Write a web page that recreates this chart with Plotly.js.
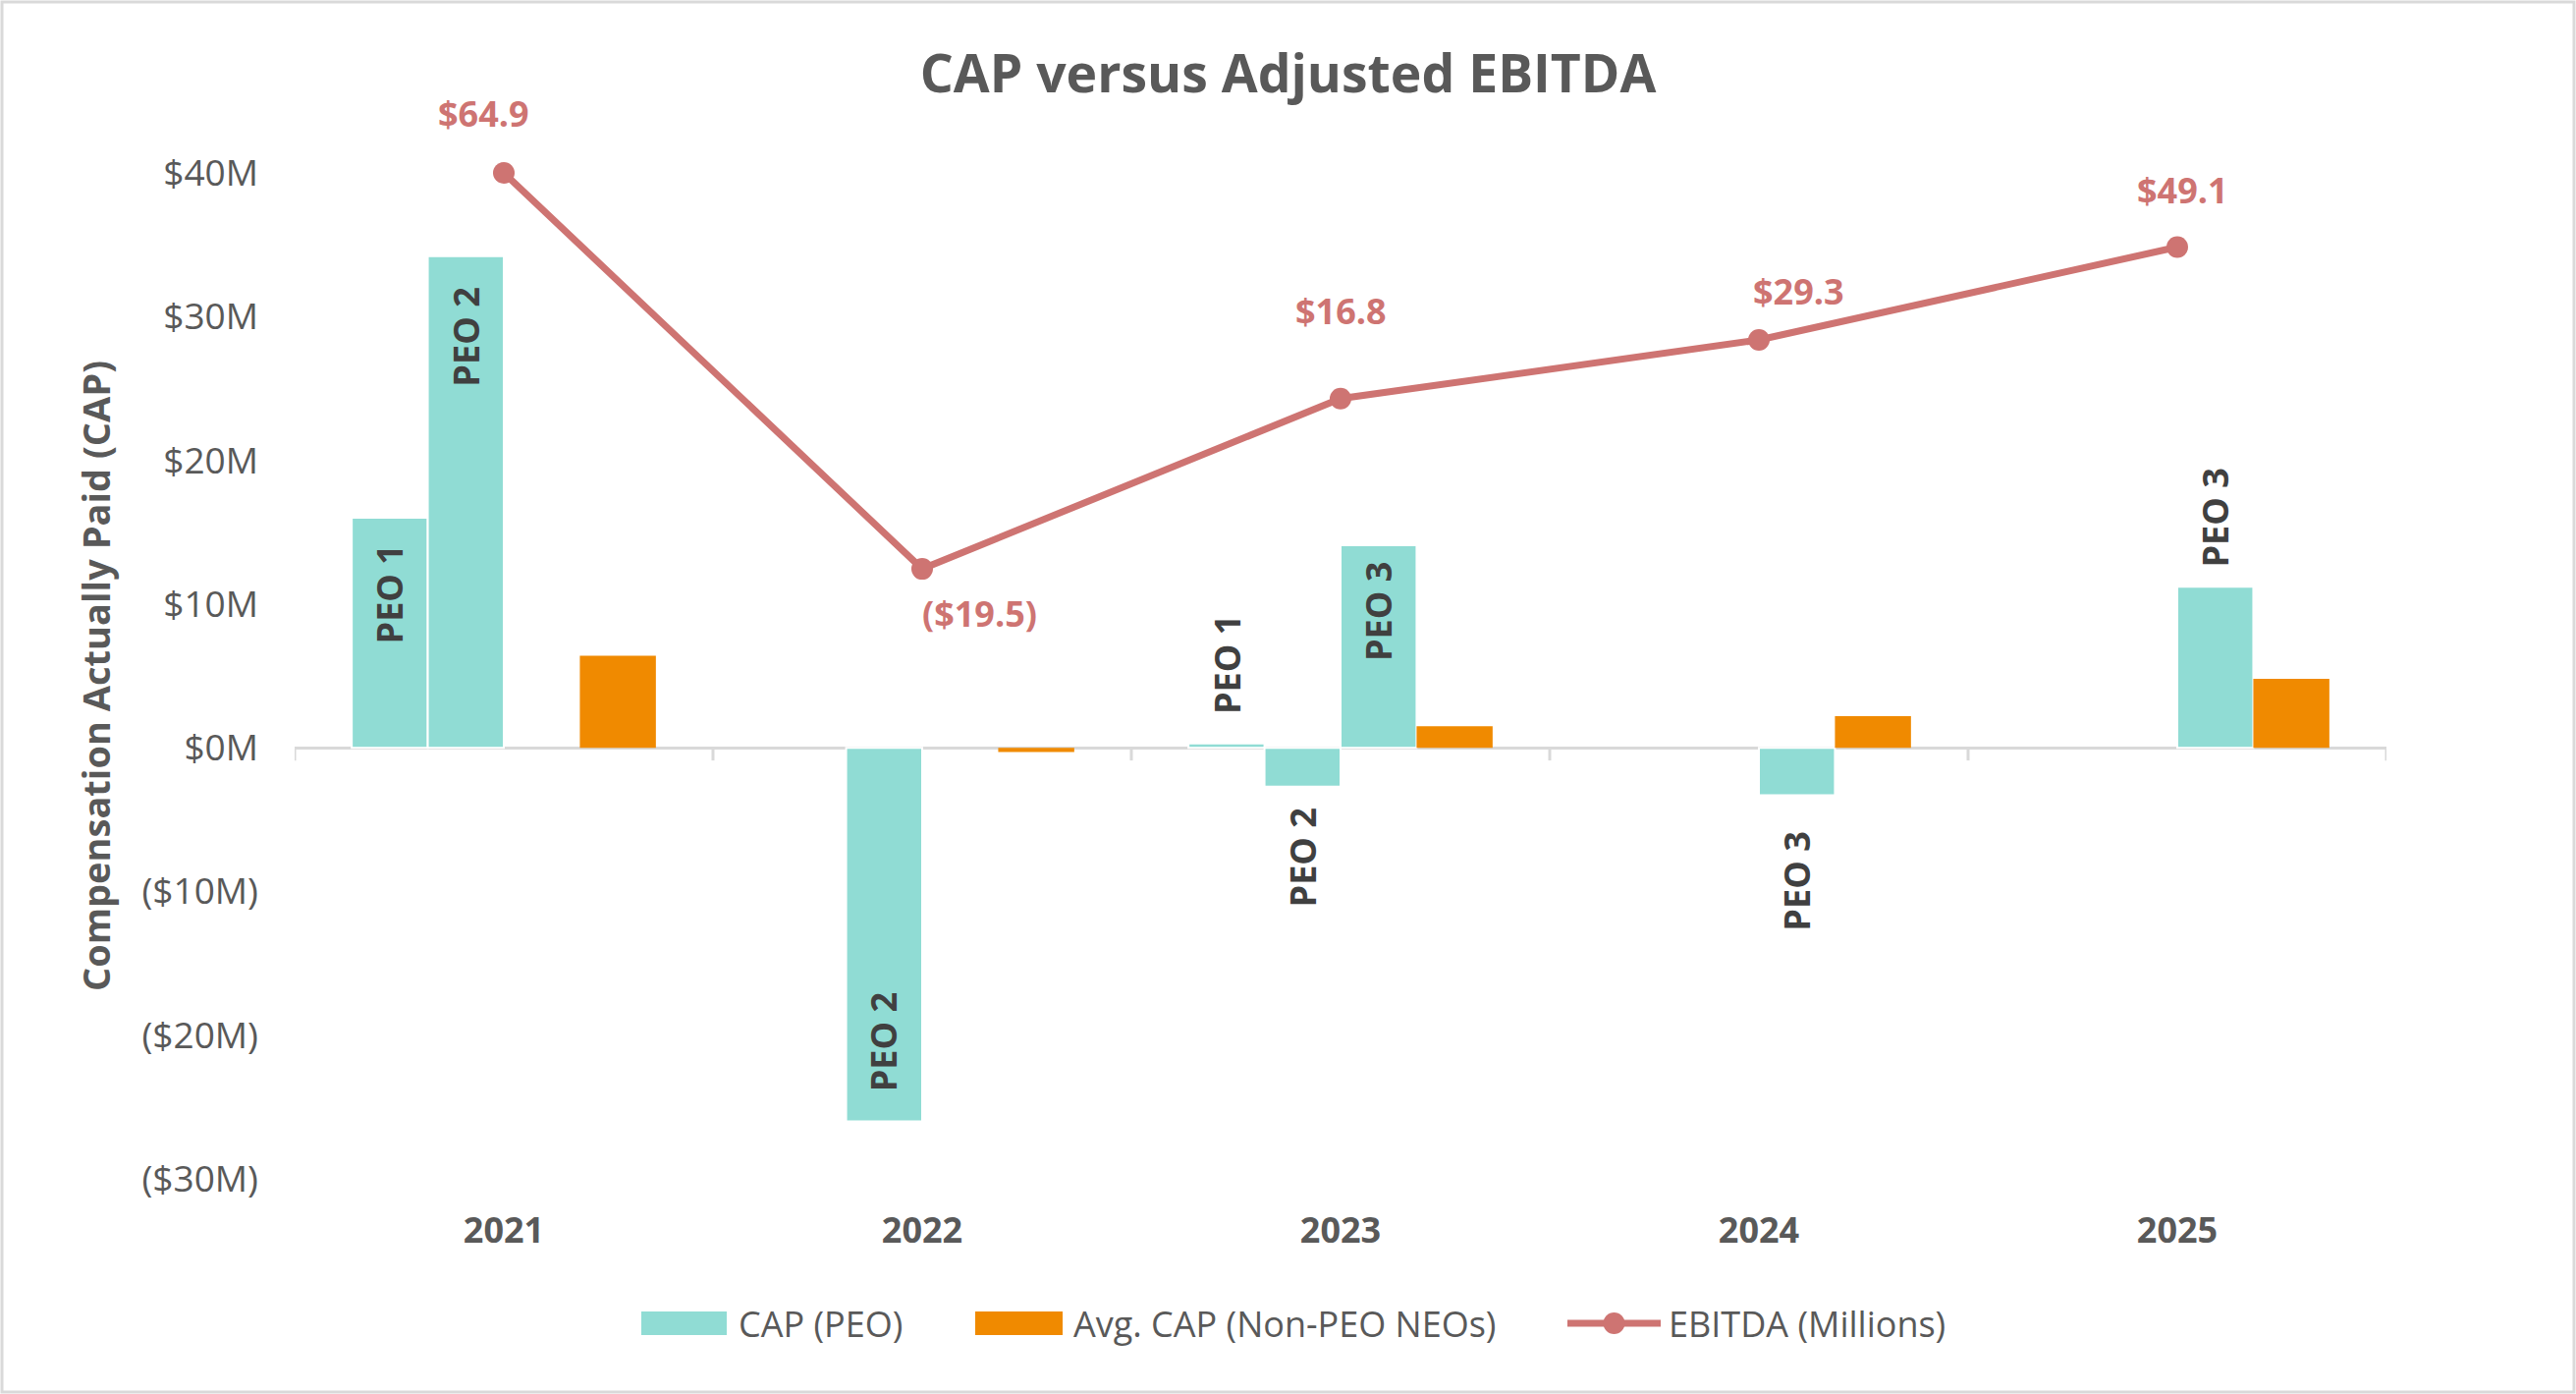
<!DOCTYPE html>
<html><head><meta charset="utf-8">
<script src="https://cdn.plot.ly/plotly-3.0.1.min.js"></script>
<style>html,body{margin:0;padding:0;background:#fff}#chart{width:2623px;height:1419px}</style>
</head><body><div id="chart"></div>
<script>
// ---- data ----
const years = ['2021', '2022', '2023', '2024', '2025'];
const capPEO1 = [16.0, null, 0.3, null, null];
const capPEO2 = [34.2, -26.0, -2.7, null, null];
const capPEO3 = [null, null, 14.1, -3.3, 11.2];
const avgCapNonPEO = [6.4, -0.3, 1.5, 2.2, 4.8];
const ebitdaMillions = [64.9, -19.5, 16.8, 29.3, 49.1];
const peoNames = ['PEO 1', 'PEO 2', 'PEO 3'];
const legendNames = ['CAP (PEO)', 'Avg. CAP (Non-PEO NEOs)', 'EBITDA (Millions)'];
const yTickVals = [-30, -20, -10, 0, 10, 20, 30, 40];
const yTickText = ['($30M)', '($20M)', '($10M)', '$0M', '$10M', '$20M', '$30M', '$40M'];

// ---- style config ----
const W = 2623, H = 1419;
const M = {l: 300, r: 193, t: 176, b: 219};
const TEAL = '#90DCD4', ORANGE = '#F08A00', LINE = '#CE7472', GREY = '#595959', DARK = '#404040';
const FONT = 'Open Sans';
const BARGAP = 0.273;
// label placement per PEO series / year: 'in' = inside end of bar, 'out' = outside end
const labelPos = [
  ['in', '', 'out', '', ''],
  ['in', 'in', 'out', '', ''],
  ['', '', 'in', 'out', 'out']
];
const labelPad = [
  [25, 0, 28, 0, 0],
  [30, 28, 20, 0, 0],
  [0, 0, 15, 35, 18]
];
const ebitdaLabelShiftY = [61, -45, 89, 50, 58];
const ebitdaLabelShiftX = [-21, 58, 0, 40, 5];
const xIdx = years.map((_, i) => i);

const peoSeries = [capPEO1, capPEO2, capPEO3];
function peoTrace(vals, idx) {
  return {
    type: 'bar', x: xIdx, y: vals,
    name: legendNames[0], legendgroup: 'peo', showlegend: false,
    marker: {color: TEAL, line: {color: '#ffffff', width: 2}},
    hoverinfo: 'skip'
  };
}

const traces = [
  peoTrace(capPEO1, 0),
  peoTrace(capPEO2, 1),
  peoTrace(capPEO3, 2),
  {
    type: 'bar', x: xIdx, y: avgCapNonPEO, name: legendNames[1], showlegend: false,
    marker: {color: ORANGE}, hoverinfo: 'skip'
  },
  {
    type: 'scatter', mode: 'lines+markers', x: xIdx, y: ebitdaMillions, yaxis: 'y2',
    name: legendNames[2], showlegend: false,
    line: {color: LINE, width: 7}, marker: {color: LINE, size: 22},
    cliponaxis: false, hoverinfo: 'skip'
  }
];

const fmt = v => v < 0 ? '($' + Math.abs(v).toFixed(1) + ')' : '$' + v.toFixed(1);
const annotations = ebitdaMillions.map((v, i) => ({
  x: i, y: v, xref: 'x', yref: 'y2', text: fmt(v), showarrow: false,
  yanchor: 'middle', xanchor: 'center',
  yshift: ebitdaLabelShiftY[i], xshift: ebitdaLabelShiftX[i],
  font: {family: FONT, size: 36, color: LINE, weight: 'bold'}
}));

// PEO labels, placed at each bar's end (slot offsets derived from the bar gap)
const nSlots = 4;
const groupW = 1 - BARGAP, slotW = groupW / nSlots;
peoSeries.forEach((vals, j) => {
  const off = -groupW / 2 + slotW * (j + 0.5);
  vals.forEach((v, i) => {
    if (v === null || !labelPos[j][i]) return;
    const inside = labelPos[j][i] === 'in';
    const up = v >= 0;
    const pad = labelPad[j][i];
    let yanchor, yshift;
    if (inside) { yanchor = up ? 'top' : 'bottom'; yshift = up ? -pad : pad; }
    else { yanchor = up ? 'bottom' : 'top'; yshift = up ? pad : -pad; }
    annotations.push({
      x: i + off, y: v, xref: 'x', yref: 'y', text: peoNames[j], showarrow: false,
      textangle: -90, xanchor: 'center', yanchor: yanchor, yshift: yshift,
      font: {family: FONT, size: 36, color: DARK, weight: 'bold'}
    });
  });
});

const plotW = W - M.l - M.r, plotH = H - M.t - M.b;
const px2x = px => (px - M.l) / plotW;
const py2y = py => (M.t + plotH - py) / plotH;

const shapes = [];
for (let k = 0; k <= years.length; k++) {
  shapes.push({
    type: 'line', xref: 'x', yref: 'y', x0: k - 0.5, x1: k - 0.5,
    ysizemode: 'pixel', yanchor: 0, y0: 0, y1: -13,
    line: {color: '#D9D9D9', width: 3}, layer: 'below'
  });
}
shapes.push({
  type: 'rect', xref: 'paper', yref: 'paper',
  x0: px2x(2), x1: px2x(W - 2), y0: py2y(H - 2), y1: py2y(2),
  line: {color: '#D9D9D9', width: 3}, fillcolor: 'rgba(0,0,0,0)', layer: 'below'
});

// ---- legend (drawn to match the wide swatches of the original) ----
const legY = 1347;
const legItems = [
  {kind: 'box', color: TEAL, x0: 653, x1: 740, tx: 750},
  {kind: 'box', color: ORANGE, x0: 993, x1: 1082, tx: 1091},
  {kind: 'line', color: LINE, x0: 1596, x1: 1691, tx: 1697}
];
legItems.forEach((it, i) => {
  if (it.kind === 'box') {
    shapes.push({type: 'rect', xref: 'paper', yref: 'paper',
      x0: px2x(it.x0), x1: px2x(it.x1), y0: py2y(legY + 12), y1: py2y(legY - 12),
      fillcolor: it.color, line: {width: 0}});
  } else {
    shapes.push({type: 'line', xref: 'paper', yref: 'paper',
      x0: px2x(it.x0), x1: px2x(it.x1), y0: py2y(legY), y1: py2y(legY),
      line: {color: it.color, width: 7}});
    const cx = (it.x0 + it.x1) / 2;
    shapes.push({type: 'circle', xref: 'paper', yref: 'paper',
      x0: px2x(cx - 11), x1: px2x(cx + 11), y0: py2y(legY + 11), y1: py2y(legY - 11),
      fillcolor: it.color, line: {width: 0}});
  }
  annotations.push({xref: 'paper', yref: 'paper', x: px2x(it.tx), y: py2y(legY),
    xanchor: 'left', yanchor: 'middle', showarrow: false, text: legendNames[i],
    font: {family: FONT, size: 36, color: GREY}});
});

const layout = {
  width: W, height: H, margin: M,
  paper_bgcolor: '#ffffff', plot_bgcolor: '#ffffff',
  font: {family: FONT, color: GREY},
  title: {
    text: 'CAP versus Adjusted EBITDA', x: 0.5, xref: 'container', xanchor: 'center',
    y: 1 - 75 / H, yref: 'container', yanchor: 'middle',
    font: {family: FONT, size: 53.5, color: GREY, weight: 'bold'}
  },
  barmode: 'group', bargap: BARGAP, bargroupgap: 0,
  showlegend: false,
  xaxis: {
    type: 'linear', range: [-0.5, years.length - 0.5],
    tickvals: xIdx, ticktext: years,
    showgrid: false, showline: false, zeroline: false, ticks: '',
    tickfont: {family: FONT, size: 36, color: GREY, weight: 'bold'},
    ticklabelstandoff: 28, fixedrange: true
  },
  yaxis: {
    range: [-30, 40], tickvals: yTickVals, ticktext: yTickText,
    showgrid: false, showline: false, ticks: '',
    zeroline: true, zerolinecolor: '#D9D9D9', zerolinewidth: 3,
    tickfont: {family: FONT, size: 37, color: GREY},
    ticklabelstandoff: 36,
    title: {text: 'Compensation Actually Paid (CAP)', standoff: 20,
            font: {family: FONT, size: 38, color: GREY, weight: 'bold'}},
    fixedrange: true
  },
  yaxis2: {overlaying: 'y', range: [-149.5, 64.9], visible: false, fixedrange: true},
  annotations: annotations,
  shapes: shapes,
  hovermode: false
};

Plotly.newPlot('chart', traces, layout, {displayModeBar: false, staticPlot: true});
</script>
</body></html>
